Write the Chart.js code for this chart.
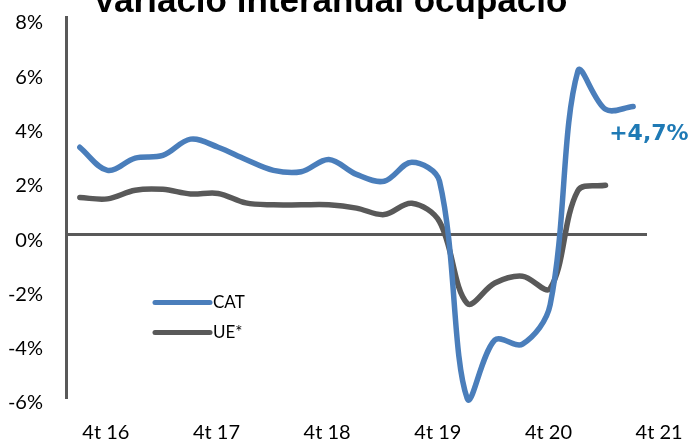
<!DOCTYPE html>
<html>
<head>
<meta charset="utf-8">
<script src="https://cdn.jsdelivr.net/npm/chart.js@4/dist/chart.umd.min.js"></script>
<style>
  html, body { margin: 0; padding: 0; background: #fff; overflow: hidden; }
  #wrap { position: relative; width: 691px; height: 444px; overflow: hidden; }
  #chart { position: absolute; left: 0; top: -20px; }
</style>
</head>
<body>
<div id="wrap"><canvas id="chart" width="691" height="464"></canvas></div>
<script>
// quarters, 4t 16 .. 4t 21
const quarters = ["4t 16", "1t 17", "2t 17", "3t 17", "4t 17", "1t 18", "2t 18", "3t 18",
  "4t 18", "1t 19", "2t 19", "3t 19", "4t 19", "1t 20", "2t 20", "3t 20", "4t 20",
  "1t 21", "2t 21", "3t 21", "4t 21"];
const tickLabels = ["4t 16", "4t 17", "4t 18", "4t 19", "4t 20", "4t 21"];

// variacio interanual (%)
const cat = [3.2, 2.35, 2.8, 2.9, 3.5, 3.2, 2.75, 2.35, 2.3, 2.75, 2.2, 1.95, 2.65, 1.95,
  -6.05, -3.9, -4.05, -2.6, 6.0, 4.6, 4.7];
const ue = [1.35, 1.3, 1.62, 1.65, 1.48, 1.5, 1.15, 1.08, 1.08, 1.08, 0.96, 0.72, 1.14, 0.46,
  -2.55, -1.8, -1.55, -2.0, 1.6, 1.8];

const yTicks = [-6, -4, -2, 0, 2, 4, 6, 8];

const blue = "#4A7EBB", grey = "#595959";

// legend drawn inside the plot, like the original
const lineLegend = {
  id: "lineLegend",
  afterDatasetsDraw(chart) {
    const { ctx, chartArea } = chart;
    ctx.save();
    ctx.font = "17px Lato";
    ctx.textBaseline = "middle";
    chart.data.datasets.forEach((ds, i) => {
      const x = chartArea.left + 89;
      const y = chartArea.top + 285.5 + i * 30;
      ctx.strokeStyle = ds.borderColor;
      ctx.lineWidth = 5;
      ctx.lineCap = "round";
      ctx.beginPath();
      ctx.moveTo(x, y);
      ctx.lineTo(x + 55, y);
      ctx.stroke();
      ctx.fillStyle = "#000";
      ctx.fillText(ds.label, x + 58, y);
    });
    ctx.restore();
  }
};

// "+4,7%" next to the last CAT point
const lastValue = {
  id: "lastValue",
  afterDatasetsDraw(chart) {
    const meta = chart.getDatasetMeta(0);
    const pt = meta.data[meta.data.length - 1];
    const v = cat[cat.length - 1];
    const ctx = chart.ctx;
    ctx.save();
    ctx.font = "bold 22px 'DejaVu Sans'";
    ctx.fillStyle = "#1F7AB5";
    ctx.textBaseline = "middle";
    ctx.fillText("+" + v.toFixed(1).replace(".", ",") + "%", pt.x - 24, pt.y + 28);
    ctx.restore();
  }
};

new Chart(document.getElementById("chart"), {
  type: "line",
  data: {
    labels: quarters,
    datasets: [
      { label: "CAT", data: cat, borderColor: blue, backgroundColor: blue, clip: false },
      { label: "UE*", data: ue, borderColor: grey, backgroundColor: grey, clip: false }
    ]
  },
  options: {
    responsive: false,
    animation: false,
    events: [],
    layout: { padding: { left: 0, right: 31, top: 0, bottom: 0 } },
    elements: {
      line: { borderWidth: 5.5, tension: 0.35, borderCapStyle: "round", borderJoinStyle: "round" },
      point: { radius: 0 }
    },
    plugins: {
      legend: { display: false },
      tooltip: { enabled: false },
      title: {
        display: true,
        text: "Variació interanual ocupació",
        color: "#000",
        font: { family: "'Liberation Sans', Arial", size: 35, weight: "bold", lineHeight: 1 },
        padding: { top: 5, bottom: -3 }
      }
    },
    scales: {
      x: {
        offset: true,
        grid: { display: false, drawTicks: false },
        border: { display: false },
        afterFit: s => { s.height = 47; },
        ticks: {
          autoSkip: false,
          maxRotation: 0,
          padding: 24,
          labelOffset: 26,
          color: "#000",
          font: { family: "Lato", size: 20 },
          callback: function (value, index) {
            const l = quarters[index];
            return tickLabels.includes(l) ? l : "";
          }
        }
      },
      y: {
        min: yTicks[0],
        max: yTicks[yTicks.length - 1],
        afterFit: s => { s.width = 66; },
        afterBuildTicks: s => { s.ticks = yTicks.map(v => ({ value: v })); },
        grid: {
          drawTicks: false,
          lineWidth: 3,
          color: c => (c.tick && c.tick.value === 0 ? grey : "rgba(0,0,0,0)")
        },
        border: { display: true, color: grey, width: 3 },
        ticks: {
          padding: 23,
          labelOffset: 6,
          color: "#000",
          font: { family: "Lato", size: 20 },
          callback: v => v + "%"
        }
      },
      // empty strip on the right so the title sits where it did in the original
      yRight: {
        position: "right",
        min: 0,
        max: 1,
        afterFit: s => { s.width = 13; },
        grid: { display: false, drawTicks: false },
        border: { display: false },
        ticks: { display: false }
      }
    }
  },
  plugins: [lineLegend, lastValue]
});
</script>
</body>
</html>
